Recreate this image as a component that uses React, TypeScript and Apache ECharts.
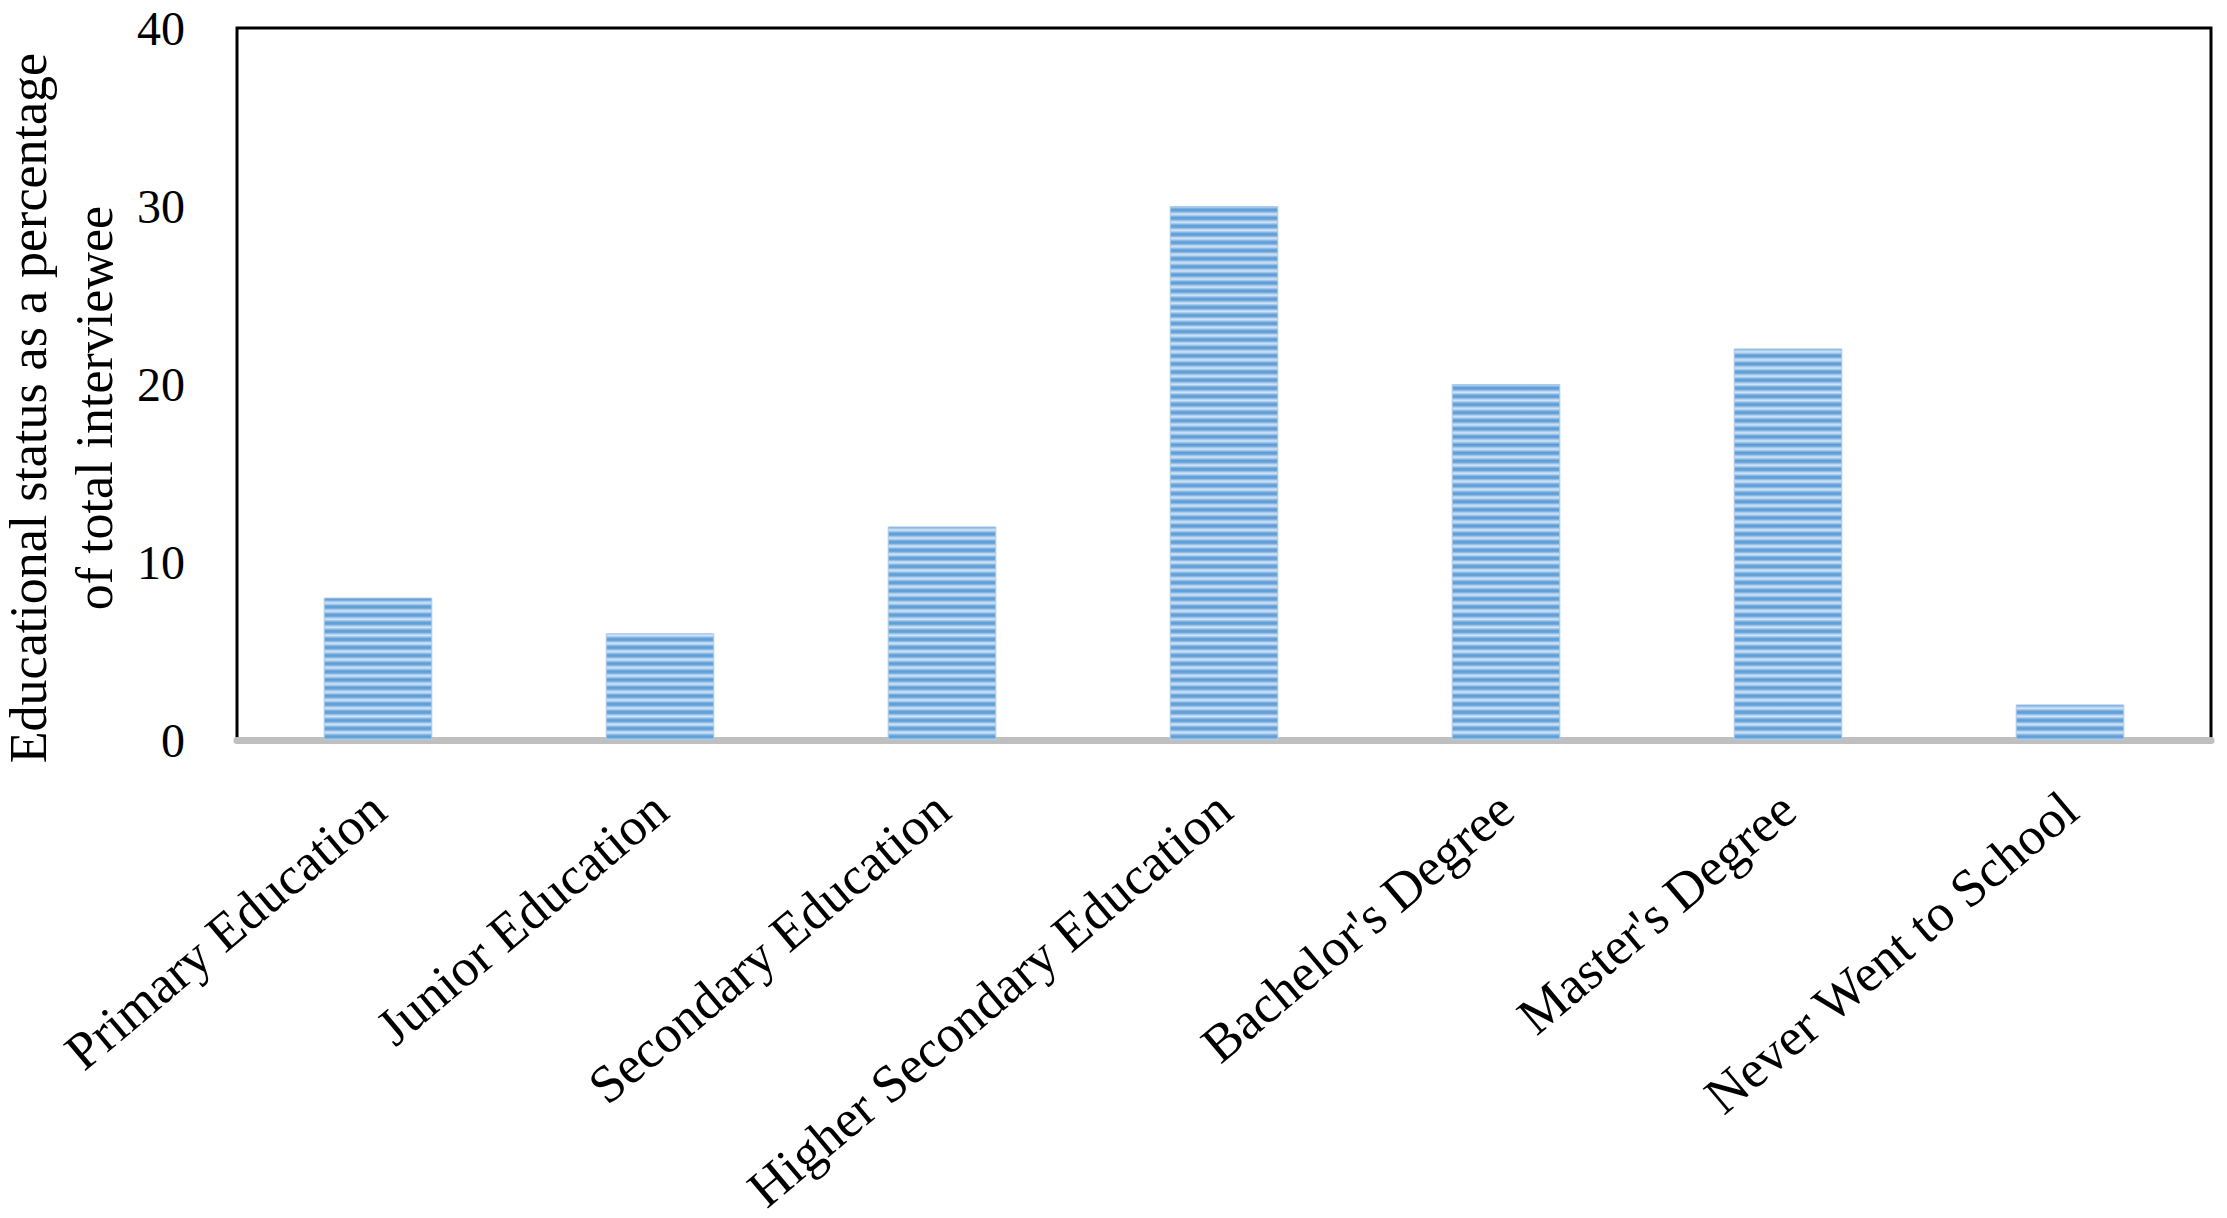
import React, { useEffect, useRef } from "react";
import * as echarts from "echarts";

const categories: string[] = [
  "Primary Education",
  "Junior Education",
  "Secondary Education",
  "Higher Secondary Education",
  "Bachelor's Degree",
  "Master's Degree",
  "Never Went to School",
];
const values: number[] = [8, 6, 12, 30, 20, 22, 2];
const yMin = 0;
const yMax = 40;
const yInterval = 10;
const yTitleLines: string[] = ["Educational status as a percentage", "of total interviewee"];

const FONT = "'Liberation Serif', 'Times New Roman', serif";
const GRID_TOP = 28;
const GRID_BOTTOM_Y = 740;

function stripeFill() {
  const period = 8.1;
  const span = GRID_BOTTOM_Y - GRID_TOP;
  const stops: { offset: number; color: string }[] = [];
  const n = Math.ceil(span / period);
  for (let k = 0; k < n; k++) {
    const base = k * period;
    const seg: [number, string][] = [
      [0, "#d3e4f5"],
      [0.22, "#8dbbe6"],
      [0.42, "#5b9bd5"],
      [0.62, "#6aa5db"],
      [0.85, "#b4d2ef"],
    ];
    for (const [f, c] of seg) {
      const off = (base + f * period) / span;
      if (off <= 1) stops.push({ offset: off, color: c });
    }
  }
  stops.push({ offset: 1, color: "#d3e4f5" });
  return new echarts.graphic.LinearGradient(0, GRID_TOP, 0, GRID_BOTTOM_Y, stops, true);
}

export default function App() {
  const ref = useRef<HTMLDivElement>(null);
  useEffect(() => {
    if (!ref.current) return;
    const chart = echarts.init(ref.current, undefined, { renderer: "svg" });
    const titleStyle = {
      fill: "#000000",
      fontFamily: FONT,
      fontSize: 52,
      align: "center",
      verticalAlign: "middle",
    };
    chart.setOption({
      animation: false,
      backgroundColor: "#ffffff",
      grid: {
        left: 237,
        right: 16,
        top: GRID_TOP,
        bottom: 1218 - GRID_BOTTOM_Y,
        show: true,
        borderColor: "#000000",
        borderWidth: 3,
        backgroundColor: "transparent",
      },
      xAxis: {
        type: "category",
        data: categories,
        axisTick: { show: false },
        axisLine: { show: true, lineStyle: { color: "#bfbfbf", width: 7 } },
        axisLabel: {
          interval: 0,
          rotate: 40,
          margin: 62,
          color: "#000000",
          fontFamily: FONT,
          fontSize: 53,
        },
      },
      yAxis: {
        type: "value",
        min: yMin,
        max: yMax,
        interval: yInterval,
        axisLine: { show: false },
        axisTick: { show: false },
        splitLine: { show: false },
        axisLabel: {
          margin: 52,
          color: "#000000",
          fontFamily: FONT,
          fontSize: 48,
        },
      },
      graphic: [
        {
          type: "text",
          x: 28,
          y: 408,
          rotation: Math.PI / 2,
          style: { ...titleStyle, text: yTitleLines[0] },
        },
        {
          type: "text",
          x: 94,
          y: 408,
          rotation: Math.PI / 2,
          style: { ...titleStyle, text: yTitleLines[1] },
        },
      ],
      series: [
        {
          type: "bar",
          data: values,
          barWidth: "38.5%",
          itemStyle: {
            color: stripeFill(),
            borderColor: "#a9cbec",
            borderWidth: 1,
          },
        },
      ],
    });
    return () => chart.dispose();
  }, []);
  return (
    <div
      ref={ref}
      style={{ position: "absolute", left: 0, top: 0, width: 2227, height: 1218 }}
    />
  );
}
